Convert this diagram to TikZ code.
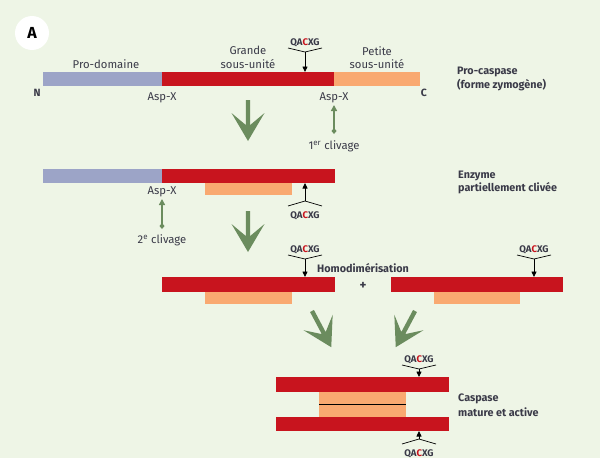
\documentclass[tikz,border=0pt]{standalone}
\usepackage{fontspec}
\setmainfont{Fira Sans}
\usetikzlibrary{arrows.meta}
\definecolor{bg}{HTML}{EEF5E6}
\definecolor{pro}{HTML}{9CA4C7}
\definecolor{big}{HTML}{C8141E}
\definecolor{small}{HTML}{F9A971}
\definecolor{grn}{HTML}{6B8C5E}
\definecolor{txt}{HTML}{3A3A48}
\newcommand\qtext{\textcolor{txt}{QA}\textcolor{big}{C}\textcolor{txt}{XG}}
\newcommand\qdn[4]{%
  \node[qlab] (#1t) at (#2,#3) {\qtext};
  \coordinate (#1c) at (#2,#3+7);
  \draw[brk] (#2-17,#3+3) -- (#1c) -- (#2+17,#3+3);
  \coordinate (#1e) at (#2,#4);
  \draw[qarr] (#1c) -- (#1e);}
\newcommand\qup[4]{%
  \node[qlab] (#1t) at (#2,#3) {\qtext};
  \coordinate (#1c) at (#2,#3-17);
  \draw[brk] (#2-17,#3-12) -- (#1c) -- (#2+17,#3-12);
  \coordinate (#1e) at (#2,#4);
  \draw[qarr] (#1c) -- (#1e);}
\newcommand\bigarr[3]{%
  \begin{scope}[shift={(#1,#2)},rotate=#3]
    \fill[grn] (-2.2,0) -- (2.2,0) -- (2.2,25) -- (16.5,13) -- (0,41) -- (-16.5,13) -- (-2.2,25) -- cycle;
  \end{scope}}
\begin{document}
\begin{tikzpicture}[x=1pt,y=-1pt,
  lab/.style={inner sep=0pt,anchor=base,text=txt,font=\fontsize{11.3}{13}\selectfont},
  blab/.style={inner sep=0pt,anchor=base west,text=txt,font=\bfseries\fontsize{10.8}{12}\selectfont},
  qlab/.style={inner sep=0pt,anchor=base,font=\bfseries\fontsize{9.6}{11}\selectfont},
  brk/.style={draw=black,line width=0.7pt},
  qarr/.style={draw=black,line width=0.8pt,-{Triangle[width=5pt,length=5.5pt]}},
  clv/.style={draw=grn,line width=1.8pt,{Triangle[width=6pt,length=6pt]}-{Diamond[width=5pt,length=6pt]}}]
\fill[bg] (0,0) rectangle (600,458);
\useasboundingbox (0,0) rectangle (600,458);
% label A
\node[circle,fill=white,minimum size=34pt,inner sep=0pt,font=\bfseries\fontsize{16}{16}\selectfont] (A) at (32,33) {A};
% ---- row 1
\fill[pro] (43,72) rectangle (162,86);
\fill[big] (162,72) rectangle (334,86);
\fill[small] (334,72) rectangle (420,86);
\node[lab] (pd) at (106,68) {Pro-domaine};
\node[lab] (g1) at (248,54) {Grande};
\node[lab] (g2) at (248,68) {sous-unité};
\node[lab] (p1) at (377,55) {Petite};
\node[lab] (p2) at (377,68) {sous-unité};
\node[lab,font=\bfseries\fontsize{10.5}{11}\selectfont] (N) at (37,96) {N};
\node[lab,font=\bfseries\fontsize{10.5}{11}\selectfont] (C) at (424,96) {C};
\node[lab] (a1) at (162,100) {Asp-X};
\node[lab] (a2) at (334,100) {Asp-X};
\node[blab] (pc1) at (457,74) {Pro-caspase};
\node[blab] (pc2) at (457,88) {(forme zymogène)};
\qdn{q1}{305}{45}{72}
\coordinate (c1t) at (334,105);
\coordinate (c1b) at (334,134);
\draw[clv] (c1t) -- (c1b);
\node[lab] (cl1) at (334,149) {1\textsuperscript{er} clivage};
\bigarr{248}{100}{0}
% ---- row 2
\fill[pro] (43,169) rectangle (162,183);
\fill[big] (162,169) rectangle (335,183);
\fill[small] (205,183) rectangle (292,195);
\node[lab] (a3) at (162,194) {Asp-X};
\coordinate (c2t) at (162,199);
\coordinate (c2b) at (162,229);
\draw[clv] (c2t) -- (c2b);
\node[lab] (cl2) at (162,243) {2\textsuperscript{e} clivage};
\qup{q2}{305}{218}{183}
\node[blab] (e1) at (458,178) {Enzyme};
\node[blab] (e2) at (458,191) {partiellement clivée};
\bigarr{248}{211}{0}
% ---- row 3
\fill[big] (162,277) rectangle (335,292);
\fill[small] (205,292) rectangle (292,304);
\fill[big] (391,277) rectangle (563,292);
\fill[small] (434,292) rectangle (520,304);
\qdn{q3}{305}{252}{277}
\qdn{q4}{534}{252}{277}
\node[blab] (hd) at (317,272) {Homodimérisation};
\node[lab,font=\bfseries\fontsize{13}{13}\selectfont] (plus) at (363,289) {+};
\bigarr{312}{311}{28}
\bigarr{415}{311}{-28}
% ---- row 4
\fill[big] (276,377) rectangle (449,392);
\fill[small] (319,392) rectangle (406,417);
\fill[big] (276,417) rectangle (449,431);
\coordinate (m1) at (319,404);
\coordinate (m2) at (406,404);
\draw[black,line width=0.6pt] (m1) -- (m2);
\qdn{q5}{419}{362}{377}
\qup{q6}{419}{456}{431}
\node[blab] (cm1) at (458,401) {Caspase};
\node[blab] (cm2) at (458,416) {mature et active};
\end{tikzpicture}
\end{document}
